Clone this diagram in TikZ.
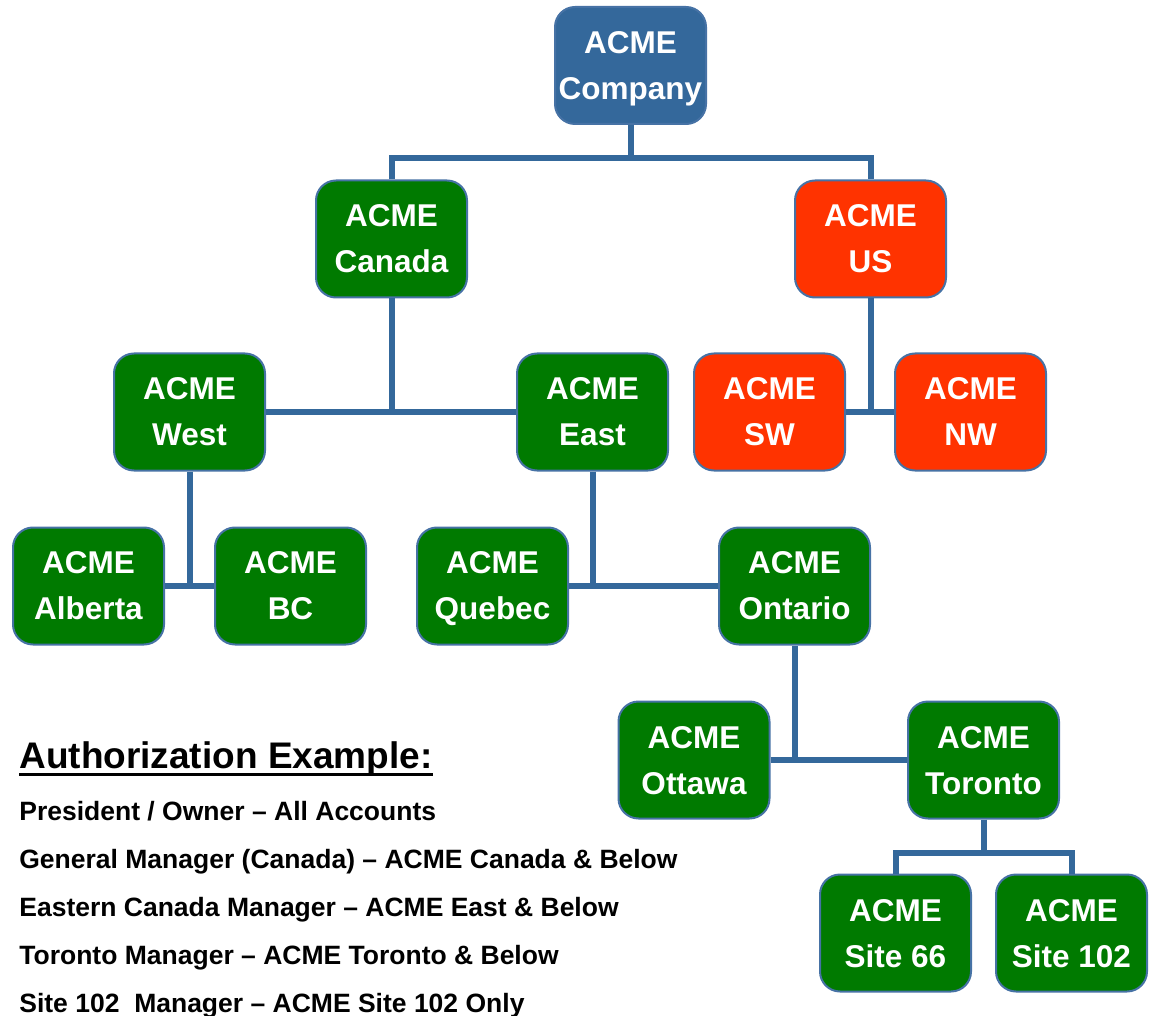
\documentclass[tikz,border=0pt]{standalone}
\usepackage{fontspec}
\setmainfont{Liberation Sans}

\definecolor{acmeblue}{RGB}{52,104,155}
\definecolor{acmegreen}{RGB}{0,122,0}
\definecolor{acmered}{RGB}{255,51,0}
\definecolor{acmeedge}{RGB}{70,114,165}
\definecolor{linkblue}{RGB}{52,104,155}

\tikzset{every picture/.style={line width=0.75pt}}
\tikzset{
  unit/.style={draw=acmeedge, line width=2pt, rounded corners=20pt,
    minimum width=151pt, minimum height=117pt, inner sep=0pt, text depth=0pt,
    text=white, align=center, font=\fontsize{31.5}{46}\selectfont\bfseries},
  hq/.style={unit, fill=acmeblue},
  ca/.style={unit, fill=acmegreen},
  usa/.style={unit, fill=acmered},
  link/.style={draw=linkblue, line width=6pt},
  legend/.style={anchor=base west, inner sep=0pt, font=\fontsize{26.5}{30}\selectfont\bfseries}
}

\begin{document}
\begin{tikzpicture}[x=1pt,y=-1pt]
	\useasboundingbox (0,0) rectangle (1152,1016);

	% Units
	\node [hq] (company) at (630.5,65.5) {ACME\\Company};
	\node [ca] (canada) at (391.5,239) {ACME\\Canada};
	\node [usa] (us) at (870.5,239) {ACME\\US};
	\node [ca] (west) at (189.5,412) {ACME\\West};
	\node [ca] (east) at (592.5,412) {ACME\\East};
	\node [usa] (sw) at (769.5,412) {ACME\\SW};
	\node [usa] (nw) at (970.5,412) {ACME\\NW};
	\node [ca] (alberta) at (88.5,586) {ACME\\Alberta};
	\node [ca] (bc) at (290.5,586) {ACME\\BC};
	\node [ca] (quebec) at (492.5,586) {ACME\\Quebec};
	\node [ca] (ontario) at (794.5,586) {ACME\\Ontario};
	\node [ca] (ottawa) at (694,760) {ACME\\Ottawa};
	\node [ca] (toronto) at (983.5,760) {ACME\\Toronto};
	\node [ca] (site66) at (895.5,933) {ACME\\Site 66};
	\node [ca] (site102) at (1071.5,933) {ACME\\Site 102};

	%Straight Lines
	\draw [link] (company.south) -- ++(0,33) coordinate (bustop);
	\draw [link] (canada.north) |- (bustop) -| (us.north);
	%Straight Lines
	\draw [link] (canada.south) -- (canada.south |- west.east);
	\draw [link] (west.east) -- (east.west);
	%Straight Lines
	\draw [link] (us.south) -- (us.south |- sw.east);
	\draw [link] (sw.east) -- (nw.west);
	%Straight Lines
	\draw [link] (west.south) -- (west.south |- alberta.east);
	\draw [link] (alberta.east) -- (bc.west);
	%Straight Lines
	\draw [link] (east.south) -- (east.south |- quebec.east);
	\draw [link] (quebec.east) -- (ontario.west);
	%Straight Lines
	\draw [link] (ontario.south) -- (ontario.south |- ottawa.east);
	\draw [link] (ottawa.east) -- (toronto.west);
	%Straight Lines
	\draw [link] (toronto.south) -- ++(0,33) coordinate (bussite);
	\draw [link] (site66.north) |- (bussite) -| (site102.north);

	% Text Node
	\node [legend, font=\fontsize{37}{40}\selectfont\bfseries] (head) at (19,768) {Authorization Example:};
	\draw [line width=3pt] ([yshift=-6pt]head.base west) -- ([yshift=-6pt]head.base east);
	% Text Node
	\node [legend] (owner) at (19,820) {President / Owner – All Accounts};
	\node [legend] (general) at (19,868) {General Manager (Canada) – ACME Canada \& Below};
	\node [legend] (eastern) at (19,916) {Eastern Canada Manager – ACME East \& Below};
	\node [legend] (tormgr) at (19,964) {Toronto Manager – ACME Toronto \& Below};
	\node [legend] (sitemgr) at (19,1012) {Site 102\ \ Manager – ACME Site 102 Only};

\end{tikzpicture}
\end{document}
